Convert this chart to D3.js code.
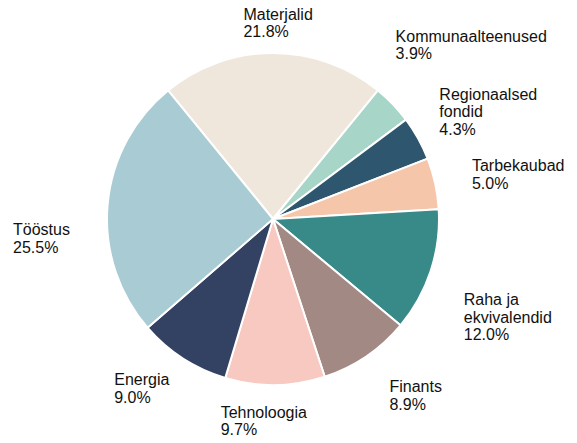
<!DOCTYPE html>
<html>
<head>
<meta charset="utf-8">
<script src="https://cdn.jsdelivr.net/npm/d3@7"></script>
<style>
  body { margin: 0; background: #fff; }
  svg { display: block; }
  .label { font-family: "Liberation Sans", Arial, sans-serif; font-size: 16px; fill: #111; }
</style>
</head>
<body>
<div id="chart"></div>
<script>
  // sectors, clockwise from the top
  const sectors = [
    "Materjalid", "Kommunaalteenused", "Regionaalsed\nfondid", "Tarbekaubad",
    "Raha ja\nekvivalendid", "Finants", "Tehnoloogia", "Energia", "Tööstus"
  ];
  const shares = [21.8, 3.9, 4.3, 5.0, 12.0, 8.9, 9.7, 9.0, 25.5];
  const colors = [
    "#efe7dc", "#a7d5c8", "#2e566e", "#f5c6a9",
    "#388a88", "#a38983", "#f7c9c0", "#334162", "#a8cbd4"
  ];

  // label placement: [angle tweak in degrees, distance in radii]
  const labelLayout = [
    [1.5, 1.175], [2.7, 1.584], [2.8, 1.446], [2.3, 1.50],
    [4.7, 1.536], [-4.6, 1.373], [3.3, 1.223], [4.7, 1.295], [-10, 1.40]
  ];

  const width = 577, height = 443;
  const cx = 273, cy = 219, radius = 166;
  const lineH = 17.5;

  const data = sectors.map(function (s, i) {
    return {name: s, value: shares[i], color: colors[i], layout: labelLayout[i]};
  });

  const total = d3.sum(shares);
  // first sector centred on the top
  const start = -(shares[0] / 2) / total * 2 * Math.PI;

  const pie = d3.pie()
    .sort(null)
    .value(function (d) { return d.value; })
    .startAngle(start)
    .endAngle(start + 2 * Math.PI);

  const arc = d3.arc().innerRadius(0).outerRadius(radius);

  const svg = d3.select("#chart").append("svg")
    .attr("width", width)
    .attr("height", height);

  const g = svg.append("g")
    .attr("transform", "translate(" + cx + "," + cy + ")");

  const arcs = pie(data);

  g.selectAll("path.slice")
    .data(arcs)
    .enter().append("path")
    .attr("class", "slice")
    .attr("d", arc)
    .attr("fill", function (d) { return d.data.color; })
    .attr("stroke", "#fff")
    .attr("stroke-width", 2)
    .attr("stroke-linejoin", "round");

  const fmt = d3.format(".1f");

  arcs.forEach(function (d) {
    const mid = (d.startAngle + d.endAngle) / 2 + d.data.layout[0] * Math.PI / 180;
    const dist = d.data.layout[1] * radius;
    const bx = Math.sin(mid) * dist;
    const by = -Math.cos(mid) * dist;

    const lines = d.data.name.split("\n").concat([fmt(d.data.value) + "%"]);
    const text = g.append("text").attr("class", "label");
    const first = by + 4.5 - (lines.length - 1) * lineH / 2;

    lines.forEach(function (l, i) {
      text.append("tspan")
        .attr("x", 0)
        .attr("y", first + i * lineH)
        .text(l);
    });

    const w = text.node().getBBox().width;
    text.selectAll("tspan").attr("x", bx - w / 2);
  });
</script>
</body>
</html>
